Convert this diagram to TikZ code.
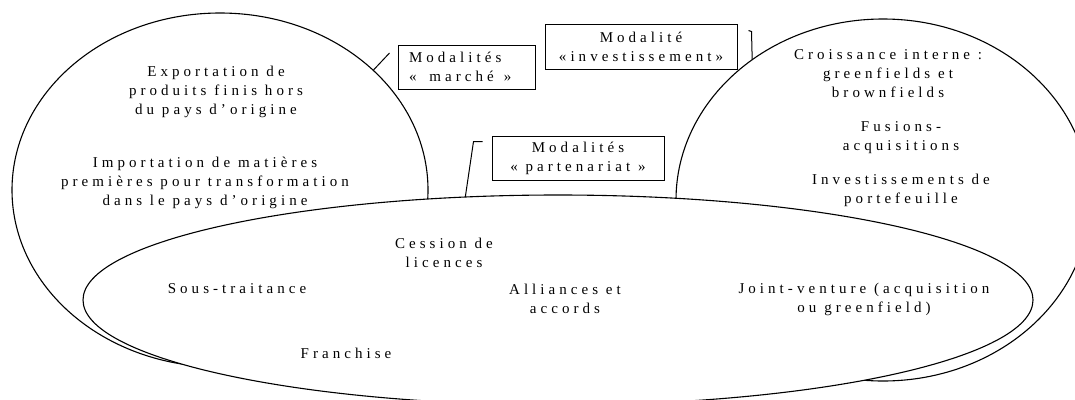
\documentclass[tikz,border=0pt]{standalone}
\usepackage{fontspec}
\setmainfont{Liberation Serif}[LetterSpace=27]
\usetikzlibrary{positioning}
\usetikzlibrary{calc}
\usetikzlibrary{shapes.geometric}
\tikzset{oval/.style={draw, ellipse, line width=1.1pt, inner sep=0pt, outer sep=0pt}}
\tikzset{txt/.style={font=\fontsize{15}{19}\selectfont, align=center, inner sep=0pt}}
\tikzset{lab/.style={draw, line width=1pt, font=\fontsize{15}{19}\selectfont, align=center, inner sep=0pt}}
\tikzset{leader/.style={line width=1pt}}

\begin{document}
\begin{tikzpicture}[x=1pt,y=-1pt]
\useasboundingbox (0,0) rectangle (1075,399);
\clip (0,0) rectangle (1075,399);

% the three modes
\node[oval, minimum width=416, minimum height=354] (mkt) at (220,190) {};
\node[oval, minimum width=414, minimum height=362] (inv) at (883,200) {};
\node[oval, fill=white, minimum width=950, minimum height=210] (part) at (558,300) {};

\node[txt] (export) at (216,92) {Exportation de\\produits finis hors\\du pays d’origine};
\node[txt] (import) at (205,183) {Importation de matières\\premières pour transformation\\dans le pays d’origine};

\node[txt] (croiss) at (888,74) {Croissance interne :\\greenfields et\\brownfields};
\node[txt] (fusion) at (901,138) {Fusions-\\acquisitions};
\node[txt] (portef) at (901,190) {Investissements de\\portefeuille};

\node[txt] (cession) at (444,253) {Cession de\\licences};
\node[txt] (soustr) at (237,289) {Sous-traitance};
\node[txt] (alliance) at (565,299) {Alliances et\\accords};
\node[txt] (jv) at (864,299) {Joint-venture (acquisition\\ou greenfield)};
\node[txt] (franch) at (346,353) {Franchise};

% labels
\node[lab, align=left, text width=115, inner xsep=11, minimum height=44] (mktlab) at (466.5,67) {Modalités\\«\hspace{8pt} marché\hspace{5pt} »};
\node[lab, minimum width=192, minimum height=45] (invlab) at (641,46.5) {Modalité\\«investissement»};
\node[lab, minimum width=172, minimum height=44] (partlab) at (578,158) {Modalités\\« partenariat »};

\coordinate (mkend) at ($(mktlab.west)+(-8,-14)$);
\coordinate (invend) at ($(invlab.north east)+(11,7)$);
\coordinate (partend) at ($(partlab.north west)+(-9,6)$);

\draw[leader] (mkt.38) -- (mkend);
\draw[leader] (invend) -- ++(3,1) -- (inv.133);
\draw[leader] (partend) -- ++(-9,0) -- (part.132);
\end{tikzpicture}
\end{document}
